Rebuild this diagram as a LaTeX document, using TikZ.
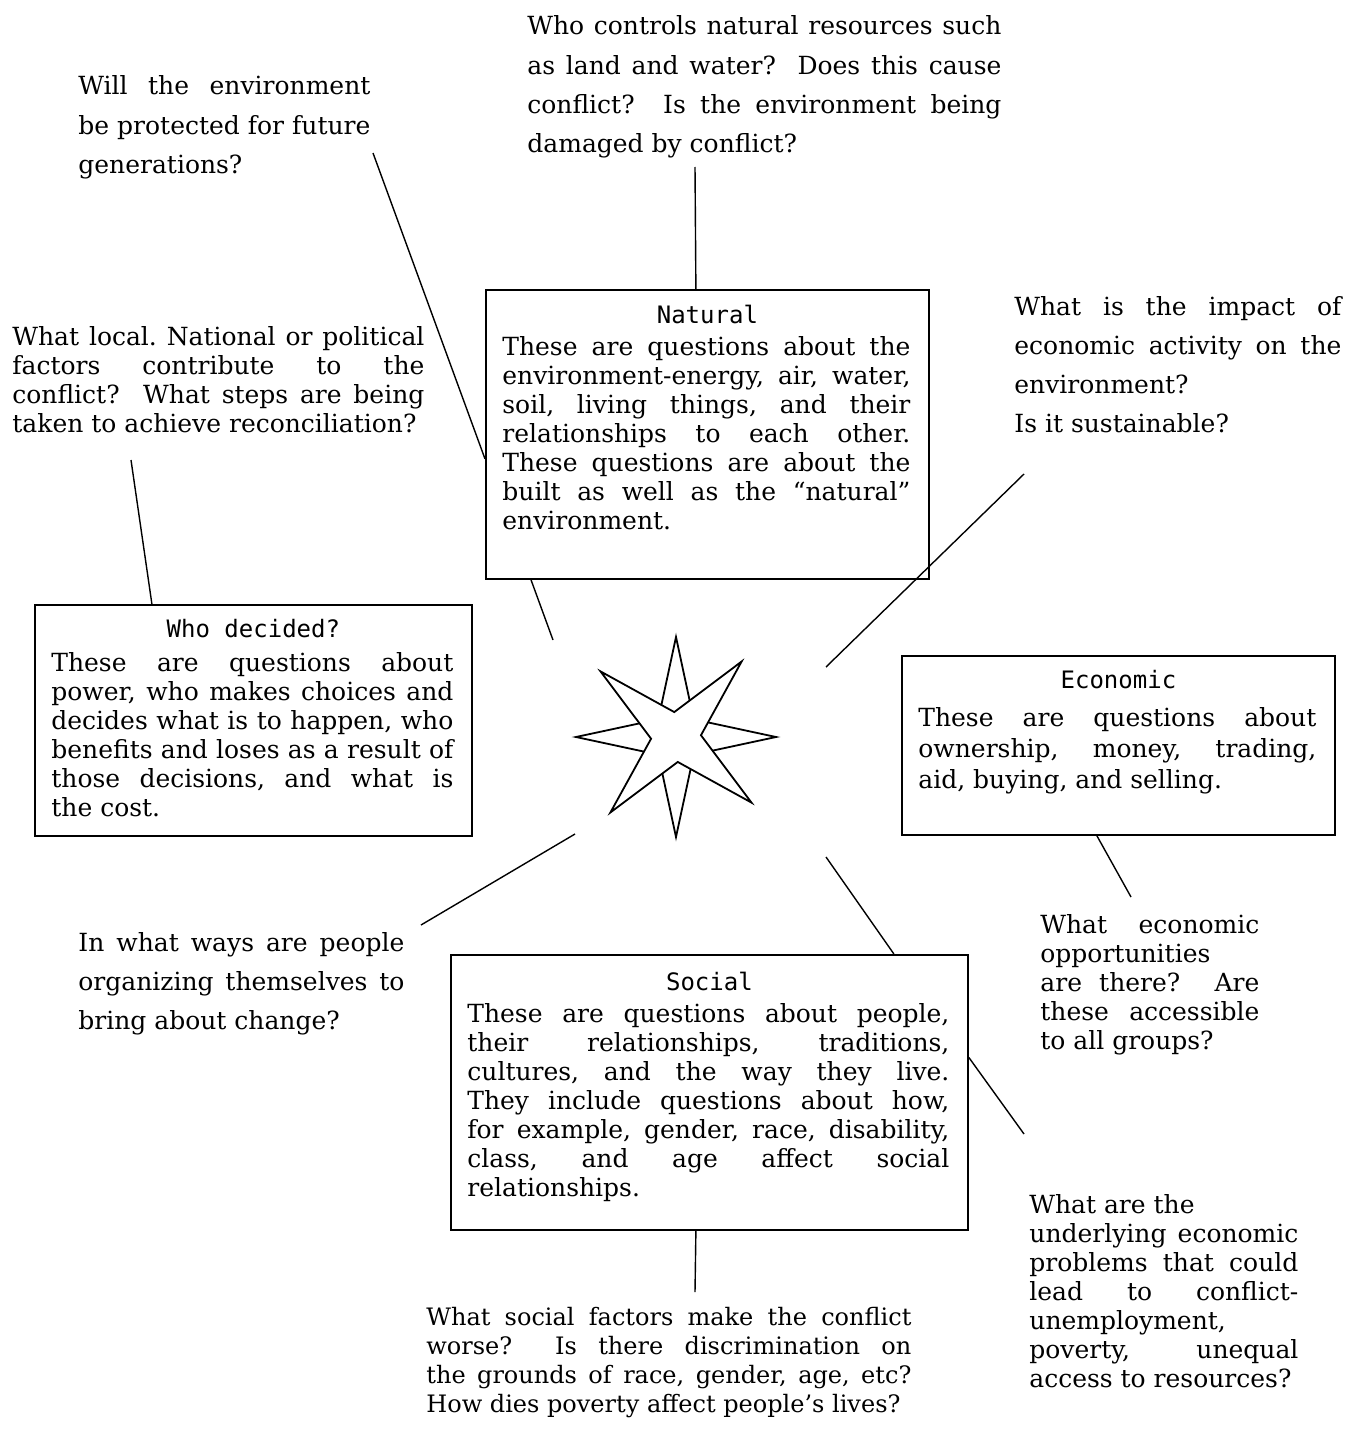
\documentclass[tikz,border=0pt]{standalone}
\usepackage{fontspec}
\setmainfont{DejaVu Serif}
\newfontfamily\headfont{DejaVu Sans Mono}
\hyphenpenalty=10000
\exhyphenpenalty=10000
\tolerance=9999
\frenchspacing

\begin{document}
\begin{tikzpicture}[
    x=0.5pt, y=-0.5pt,
    box/.style={draw, line width=0.9pt, inner sep=0pt, anchor=north west},
    head/.style={font=\headfont\fontsize{12}{14}\selectfont, inner sep=0pt, anchor=base},
    note/.style={anchor=base west, inner sep=0pt, align=justify,
      font=\fontsize{12.5}{14.5}\selectfont},
    loose/.style={note, font=\fontsize{12.5}{19.6}\selectfont},
    link/.style={line width=0.7pt},
    starline/.style={line width=0.9pt, fill=white}
  ]

  \useasboundingbox (0,0) rectangle (1347,1429);

  % the four boxes
  \node[box, minimum width=221.5pt, minimum height=144.5pt] (natural) at (485,289) {};
  \node[head] (naturalhead) at ([yshift=-17pt]natural.north) {Natural};
  \node[note, text width=204pt] (naturaltext) at (502,355) {These are questions about the\linebreak
    environment-energy, air, water,\linebreak soil, living things, and their\linebreak
    relationships to each other.\linebreak These questions are about the\linebreak
    built as well as the “natural”\linebreak environment.};

  \node[box, minimum width=218.5pt, minimum height=115.5pt] (who) at (34,604) {};
  \node[head] (whohead) at ([yshift=-16.5pt]who.north) {Who decided?};
  \node[note, text width=201pt] (whotext) at (51,671) {These are questions about\linebreak
    power, who makes choices and\linebreak decides what is to happen, who\linebreak
    benefits and loses as a result of\linebreak those decisions, and what is\linebreak
    the cost.};

  \node[box, minimum width=216.5pt, minimum height=89.5pt] (econ) at (901,655) {};
  \node[head] (econhead) at ([yshift=-16.5pt]econ.north) {Economic};
  \node[note, text width=199pt, font=\fontsize{12.5}{15.7}\selectfont] (econtext) at (918,726)
    {These are questions about\linebreak ownership, money, trading,\linebreak
    aid, buying, and selling.};

  \node[box, minimum width=258.5pt, minimum height=137.5pt] (social) at (450,954) {};
  \node[head] (socialhead) at ([yshift=-18pt]social.north) {Social};
  \node[note, text width=241pt] (socialtext) at (467,1022)
    {These are questions about people,\linebreak their relationships, traditions,\linebreak
    cultures, and the way they live.\linebreak They include questions about how,\linebreak
    for example, gender, race, disability,\linebreak class, and age affect social\linebreak
    relationships.};

  % questions round the boxes
  \node[loose, text width=146pt] (willq) at (78,95) {Will the environment\linebreak
    be protected for future\linebreak generations?};
  \node[loose, text width=237pt] (controlq) at (527,35) {Who controls natural resources such\linebreak
    as land and water?\ \ Does this cause\linebreak conflict?\ \ Is the environment being\linebreak
    damaged by conflict?};
  \node[loose, text width=163.5pt] (impactq) at (1014,315) {What is the impact of\linebreak
    economic activity on the\linebreak environment?\\ Is it sustainable?};
  \node[note, text width=206pt] (localq) at (12,345) {What local. National or political\linebreak
    factors contribute to the\linebreak conflict?\ \ What steps are being\linebreak
    taken to achieve reconciliation?};
  \node[loose, text width=163pt] (waysq) at (78,951) {In what ways are people\linebreak
    organizing themselves to\linebreak bring about change?};
  \node[note, text width=109.5pt] (chanceq) at (1040,933) {What economic\linebreak
    opportunities\\ are there?\ \ Are\linebreak these accessible\linebreak to all groups?};
  \node[note, text width=134.5pt] (problemq) at (1029,1213) {What are the\\
    underlying economic\linebreak problems that could\linebreak lead to conflict-\linebreak
    unemployment,\\ poverty, unequal\linebreak access to resources?};
  \node[note, text width=242.5pt, font=\fontsize{12}{14.5}\selectfont] (socialq) at (426,1325)
    {What social factors make the conflict\linebreak
    worse?\ \ Is there discrimination on\linebreak the grounds of race, gender, age, etc?\linebreak
    How dies poverty affect people’s lives?};

  % the star
  \coordinate (star) at (676,737);
  \begin{scope}[shift={(star)}]
    \draw[starline] (0:100) \foreach \a in {0,90,180} {-- ({\a+45}:25) -- ({\a+90}:100)}
      -- (315:25) -- cycle;
    \draw[starline] (-4:25) \foreach \a in {-4,-94,-184} {-- ({\a-45}:100) -- ({\a-90}:25)}
      -- (-319:100) -- cycle;
  \end{scope}

  % free ends of the connectors
  \coordinate (willend) at (373,153);
  \coordinate (controlend) at (695,167);
  \coordinate (naturalstar) at (553,640);
  \coordinate (impactend) at (1024,474);
  \coordinate (impactstar) at (826,667);
  \coordinate (localend) at (131,460);
  \coordinate (waysstar) at (575,834);
  \coordinate (waysend) at (421,925);
  \coordinate (socialstar) at (826,857);
  \coordinate (chanceend) at (1131,897);
  \coordinate (problemend) at (1024,1134);
  \coordinate (socialqend) at (695,1292);

  % connectors
  \draw[link] (willend) -- ([yshift=-12.25pt]natural.west);
  \draw[link] (controlend) -- ([xshift=-5.75pt]natural.north);
  \draw[link] ([xshift=23pt]natural.south west) -- (naturalstar);
  \draw[link] (impactend) -- (impactstar);
  \draw[link] (localend) -- ([xshift=-50.75pt]who.north);
  \draw[link] (waysstar) -- (waysend);
  \draw[link] (socialstar) -- ([xshift=92.25pt]social.north);
  \draw[link] ([xshift=-10.75pt]econ.south) -- (chanceend);
  \draw[link] ([yshift=17.5pt]social.east) -- (problemend);
  \draw[link] ([xshift=-6.75pt]social.south) -- (socialqend);

\end{tikzpicture}
\end{document}
